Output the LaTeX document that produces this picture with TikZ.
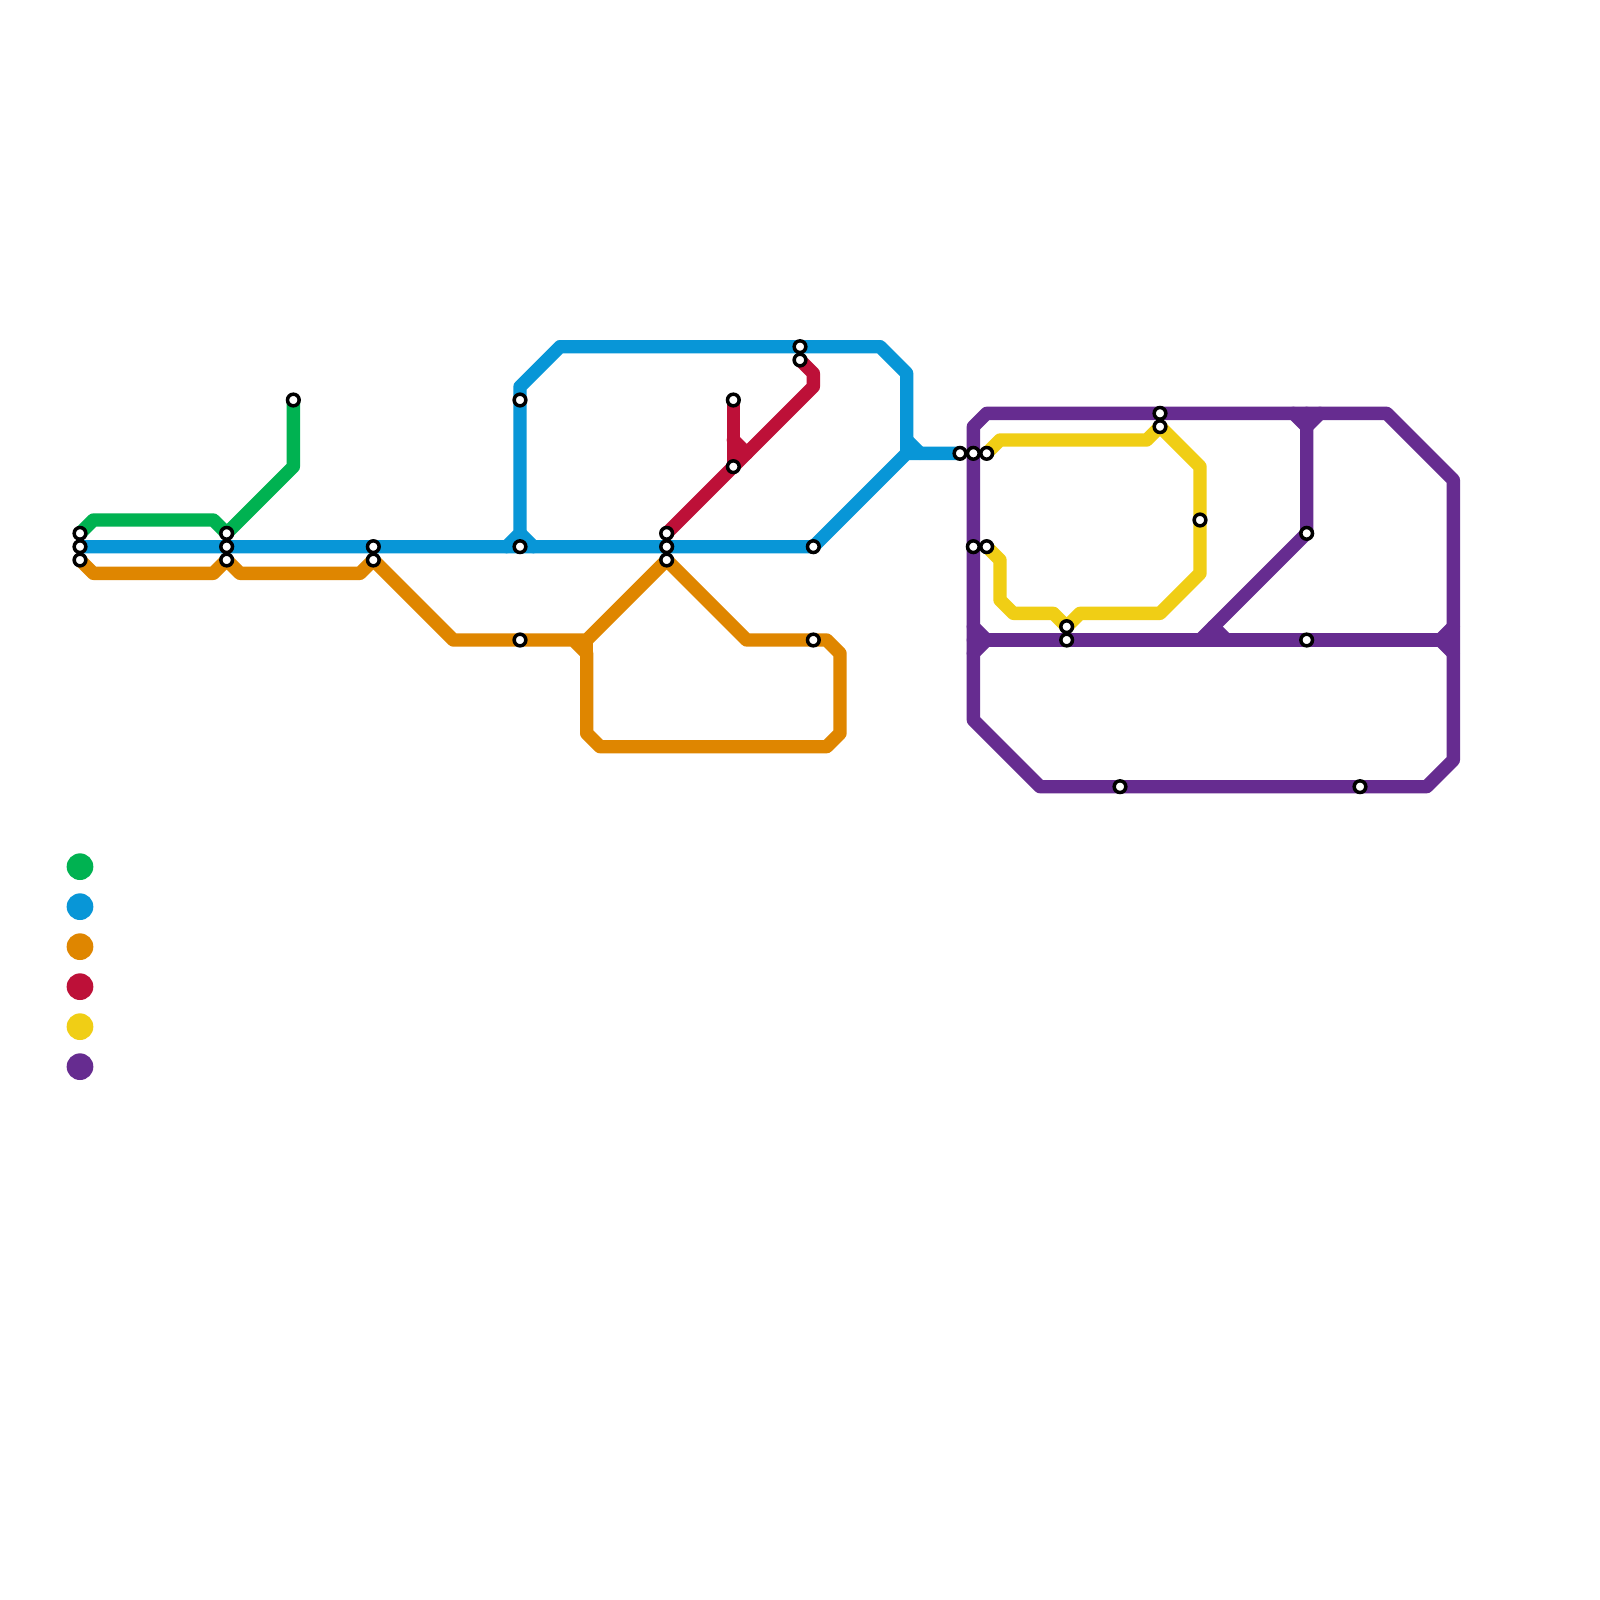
\documentclass[tikz,border=0pt]{standalone}
\pgfdeclarelayer{lines}
\pgfsetlayers{lines,main}
\definecolor{mgreen}{HTML}{00B251}
\definecolor{mblue}{HTML}{0896D7}
\definecolor{morange}{HTML}{DF8600}
\definecolor{mred}{HTML}{BD1038}
\definecolor{myellow}{HTML}{F0CE15}
\definecolor{mpurple}{HTML}{662C90}
\tikzset{
  route/.style={line width=0.4cm,line join=round,line cap=round,draw=#1},
  station/.style={circle,draw=black,fill=white,line width=0.105cm,minimum size=0.35cm,inner sep=0pt,outer sep=0pt},
  legenddot/.style={circle,fill=#1,draw=none,minimum size=0.8cm,inner sep=0pt,outer sep=0pt}
}
\begin{document}
\begin{tikzpicture}[x=0.4cm,y=-0.4cm]
\path[use as bounding box] (0,0) rectangle (120,120);
% stations
\foreach \x/\y in {6/40,6/41,6/42,17/40,17/41,17/42,22/30,28/41,28/42,39/30,39/41,39/48,
  50/40,50/41,50/42,55/30,55/35,60/26,60/27,61/41,61/48,72/34,73/34,74/34,73/41,74/41,
  80/47,80/48,87/31,87/32,90/39,98/40,98/48,84/59,102/59}
  {\node[station] (s\x-\y) at (\x,\y) {};}
% bend points
\foreach \x/\y in {7/39,16/39,22/35,
  38/41,39/29,39/40,40/41,42/26,66/26,68/28,68/33,68/34,69/34,
  7/43,16/43,18/43,27/43,34/48,43/48,44/48,44/49,44/55,45/56,62/56,63/55,63/49,62/48,56/48,
  61/28,61/29,55/33,56/34,
  75/33,86/33,90/35,90/43,87/46,81/46,79/46,76/46,75/45,75/42,
  73/32,74/31,104/31,109/36,109/47,109/49,109/57,107/59,78/59,73/54,73/47,73/48,73/49,74/48,
  108/48,90/48,91/47,92/48,97/31,98/31,99/31,98/32}
  {\coordinate (b\x-\y) at (\x,\y);}
% legend
\foreach \n/\c/\y in {lg/mgreen/65,lb/mblue/68,lo/morange/71,lr/mred/74,ly/myellow/77,lp/mpurple/80}
  {\node[legenddot=\c] (\n) at (6,\y) {};}
\begin{pgfonlayer}{lines}
\fill[white] (0,0) rectangle (120,120);
% green
\draw[route=mgreen] (s6-40.center) -- (b7-39) -- (b16-39) -- (s17-40.center) -- (b22-35) -- (s22-30.center);
% blue
\draw[route=mblue] (s6-41.center) -- (s61-41.center) -- (b68-34) -- (s72-34.center);
\draw[route=mblue] (b38-41) -- (b39-40) -- (s39-30.center) -- (b39-29) -- (b42-26) -- (b66-26) -- (b68-28) -- (b68-34);
\draw[route=mblue] (b39-40) -- (b40-41);
\draw[route=mblue] (b68-33) -- (b69-34);
% orange
\draw[route=morange] (s6-42.center) -- (b7-43) -- (b16-43) -- (s17-42.center) -- (b18-43) -- (b27-43) -- (s28-42.center)
  -- (b34-48) -- (b44-48) -- (s50-42.center) -- (b56-48) -- (b62-48) -- (b63-49) -- (b63-55) -- (b62-56) -- (b45-56) -- (b44-55) -- (b44-49) -- (b43-48);
\draw[route=morange] (b44-48) -- (b44-49);
% red
\draw[route=mred] (s60-27.center) -- (b61-28) -- (b61-29) -- (s50-40.center);
\draw[route=mred] (s55-30.center) -- (s55-35.center);
\draw[route=mred] (b55-33) -- (b56-34);
% yellow
\draw[route=myellow] (s74-34.center) -- (b75-33) -- (b86-33) -- (s87-32.center) -- (b90-35) -- (b90-43) -- (b87-46) -- (b81-46) -- (s80-47.center) -- (b79-46) -- (b76-46) -- (b75-45) -- (b75-42) -- (s74-41.center);
% purple
\draw[route=mpurple] (b73-48) -- (b108-48);
\draw[route=mpurple] (b73-47) -- (b74-48);
\draw[route=mpurple] (b74-48) -- (b73-49);
\draw[route=mpurple] (b108-48) -- (b109-47);
\draw[route=mpurple] (b108-48) -- (b109-49);
\draw[route=mpurple] (b73-54) -- (b73-32) -- (b74-31) -- (b104-31) -- (b109-36) -- (b109-57) -- (b107-59) -- (b78-59) -- (b73-54);
\draw[route=mpurple] (b97-31) -- (b98-32) -- (b99-31);
\draw[route=mpurple] (b98-31) -- (b98-32) -- (s98-40.center) -- (b90-48);
\draw[route=mpurple] (b91-47) -- (b92-48);
\end{pgfonlayer}
\end{tikzpicture}
\end{document}
